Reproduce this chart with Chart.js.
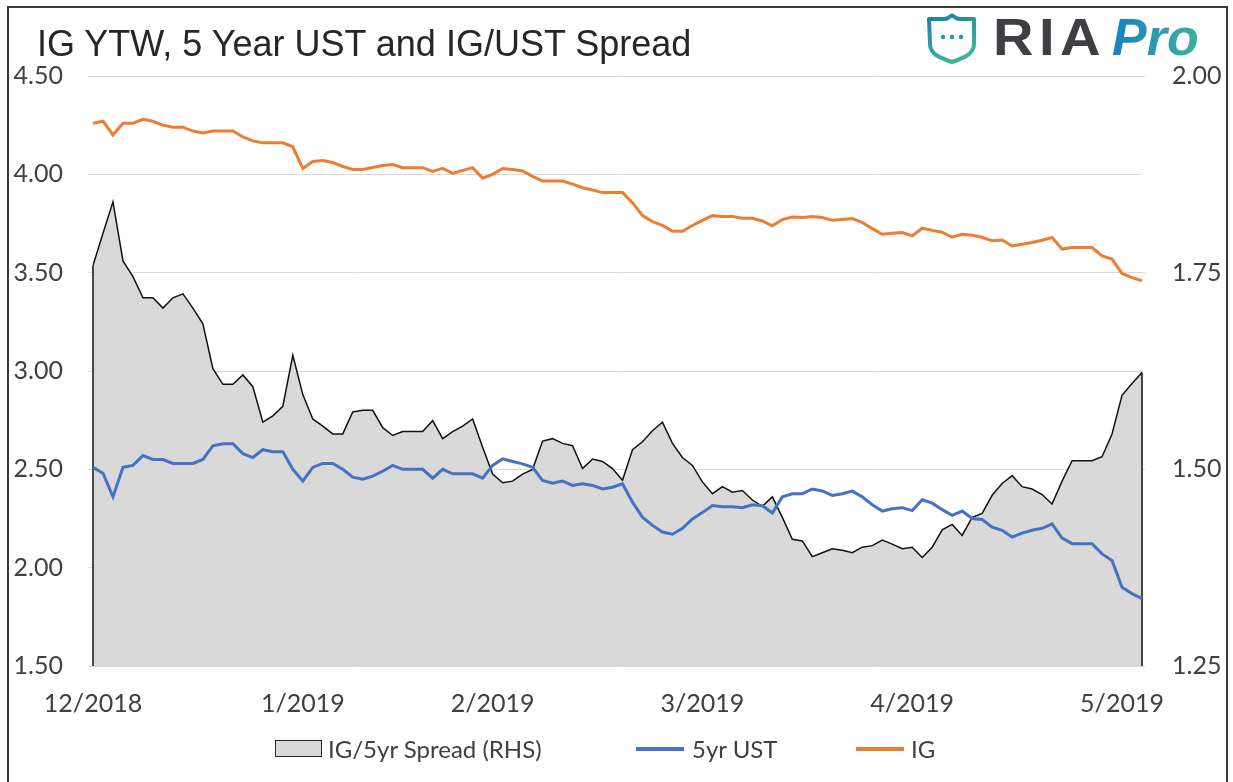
<!DOCTYPE html>
<html>
<head>
<meta charset="utf-8">
<script src="https://cdn.jsdelivr.net/npm/chart.js@4.4.0/dist/chart.umd.min.js"></script>
<style>
  html, body { margin: 0; padding: 0; background: #fff; }
  #wrap { position: relative; width: 1233px; height: 782px; overflow: hidden; font-family: Lato, sans-serif; }
  #chart { position: absolute; left: 0; top: 0; }
  #frame { position: absolute; left: 7px; top: 6px; width: 1217px; height: 790px; border: 2px solid #3a3a3a; pointer-events: none; }
  .title { position: absolute; left: 37px; top: 26px; font: 36px/36px "Liberation Sans", Arial, sans-serif; color: #262626; white-space: nowrap; }
  .shield { position: absolute; left: 926px; top: 13px; }
  .ria { position: absolute; left: 993px; top: 11px; font: bold 52px/52px "Liberation Sans", sans-serif; color: #3d3f42; letter-spacing: 5px;
         transform: scaleX(1.08); transform-origin: left top; }
  .pro { position: absolute; left: 1112px; top: 11px; font: italic bold 52px/52px "Liberation Sans", sans-serif;
         background: linear-gradient(90deg, #1a80c2, #3bb49c); -webkit-background-clip: text; background-clip: text; color: transparent; }
  .leg { position: absolute; font-size: 24px; line-height: 30px; color: #404040; top: 734px; white-space: nowrap; }
  .swatch { position: absolute; }
</style>
</head>
<body>
<div id="wrap">
  <canvas id="chart" width="1233" height="782"></canvas>
  <div id="frame"></div>
  <div class="title">IG YTW, 5 Year UST and IG/UST Spread</div>

  <svg class="shield" width="52" height="52" viewBox="0 0 52 52">
    <defs>
      <linearGradient id="sg" x1="0" y1="0" x2="0.4" y2="1">
        <stop offset="0" stop-color="#1b7fb0"/>
        <stop offset="1" stop-color="#3db39c"/>
      </linearGradient>
    </defs>
    <path d="M3,6 L20,6 L26,2.5 L32,6 L48,6 L48,31 C48,41 38,45 26,49 C14,45 4,41 4,31 Z"
          fill="none" stroke="url(#sg)" stroke-width="4" stroke-linejoin="round"/>
    <circle cx="17" cy="24" r="2.2" fill="#2590b4"/>
    <circle cx="26" cy="24" r="2.2" fill="#2590b4"/>
    <circle cx="35" cy="24" r="2.2" fill="#2590b4"/>
  </svg>
  <div class="ria">RIA</div>
  <div class="pro">Pro</div>

  <div class="swatch" style="left:275px;top:740px;width:45px;height:15px;background:#d9d9d9;border:1.5px solid #262626;"></div>
  <div class="leg" style="left:328px;">IG/5yr Spread (RHS)</div>
  <div class="swatch" style="left:636px;top:747px;width:48px;height:4px;background:#4472c4;"></div>
  <div class="leg" style="left:692px;">5yr UST</div>
  <div class="swatch" style="left:856px;top:747px;width:48px;height:4px;background:#ed7d31;"></div>
  <div class="leg" style="left:911px;">IG</div>
</div>

<script>
const monthLabels = ["12/2018", "1/2019", "2/2019", "3/2019", "4/2019", "5/2019"];
const monthStarts = [0, 21, 40, 61, 82, 103];

// IG yield to worst (left axis)
const igYield = [
  4.26, 4.27, 4.20, 4.26, 4.26, 4.28, 4.27, 4.25, 4.24, 4.24,
  4.22, 4.21, 4.22, 4.22, 4.22, 4.19, 4.17, 4.16, 4.16, 4.16,
  4.14, 4.03, 4.065, 4.07, 4.06, 4.04, 4.025, 4.025, 4.035, 4.045,
  4.05, 4.034, 4.034, 4.034, 4.015, 4.03, 4.005, 4.02, 4.034, 3.98,
  4.00, 4.03, 4.025, 4.017, 3.99, 3.966, 3.966, 3.966, 3.95, 3.932,
  3.92, 3.907, 3.907, 3.907, 3.856, 3.79, 3.76, 3.74, 3.71, 3.71,
  3.74, 3.766, 3.79, 3.785, 3.785, 3.777, 3.777, 3.763, 3.738, 3.77,
  3.783, 3.78, 3.785, 3.78, 3.766, 3.77, 3.775, 3.755, 3.724, 3.695,
  3.70, 3.704, 3.687, 3.726, 3.715, 3.706, 3.68, 3.695, 3.69, 3.68,
  3.662, 3.666, 3.636, 3.645, 3.653, 3.665, 3.679, 3.62, 3.628, 3.628,
  3.628, 3.585, 3.569, 3.496, 3.475, 3.459
];

// 5yr treasury (left axis)
const ust5y = [
  2.51, 2.48, 2.36, 2.51, 2.52, 2.57, 2.55, 2.55, 2.53, 2.53,
  2.53, 2.55, 2.62, 2.63, 2.63, 2.58, 2.56, 2.60, 2.59, 2.59,
  2.50, 2.44, 2.51, 2.53, 2.53, 2.50, 2.46, 2.45, 2.465, 2.49,
  2.52, 2.50, 2.50, 2.50, 2.455, 2.50, 2.477, 2.477, 2.477, 2.455,
  2.52, 2.553, 2.54, 2.528, 2.51, 2.443, 2.43, 2.44, 2.418, 2.426,
  2.418, 2.40, 2.409, 2.426, 2.333, 2.257, 2.215, 2.181, 2.17, 2.20,
  2.248, 2.28, 2.316, 2.31, 2.31, 2.305, 2.32, 2.315, 2.278, 2.36,
  2.376, 2.376, 2.40, 2.39, 2.367, 2.376, 2.389, 2.36, 2.32, 2.288,
  2.30, 2.305, 2.29, 2.345, 2.328, 2.295, 2.266, 2.288, 2.25, 2.245,
  2.206, 2.19, 2.156, 2.176, 2.19, 2.20, 2.223, 2.15, 2.122, 2.122,
  2.122, 2.07, 2.037, 1.90, 1.868, 1.843
];

// IG / 5yr spread (right axis)
const spread = [
  1.759, 1.80, 1.84, 1.765, 1.745, 1.718, 1.718, 1.705, 1.718, 1.723,
  1.705, 1.685, 1.628, 1.608, 1.608, 1.62, 1.605, 1.56, 1.568, 1.58,
  1.645, 1.595, 1.564, 1.555, 1.545, 1.545, 1.573, 1.575, 1.575, 1.553,
  1.543, 1.548, 1.548, 1.548, 1.562, 1.539, 1.548, 1.555, 1.564, 1.528,
  1.494, 1.483, 1.485, 1.494, 1.50, 1.536, 1.539, 1.533, 1.53, 1.501,
  1.513, 1.51, 1.501, 1.486, 1.525, 1.535, 1.549, 1.56, 1.533, 1.515,
  1.505, 1.484, 1.469, 1.478, 1.471, 1.473, 1.461, 1.453, 1.465, 1.439,
  1.411, 1.409, 1.389, 1.394, 1.399, 1.397, 1.394, 1.401, 1.403, 1.41,
  1.405, 1.399, 1.401, 1.388, 1.401, 1.423, 1.43, 1.416, 1.439, 1.444,
  1.467, 1.482, 1.492, 1.478, 1.475, 1.468, 1.456, 1.485, 1.511, 1.511,
  1.511, 1.516, 1.545, 1.594, 1.609, 1.623
];

const labels = igYield.map((v, i) => {
  const k = monthStarts.indexOf(i);
  return k >= 0 ? monthLabels[k] : "";
});

// excel draws the closing vertical edges of an area series
const areaEdges = {
  id: "areaEdges",
  afterDatasetDraw(chart, args) {
    if (args.index !== 0) return;
    const pts = args.meta.data;
    const bottom = chart.chartArea.bottom;
    const ctx = chart.ctx;
    ctx.save();
    ctx.strokeStyle = "#111";
    ctx.lineWidth = 1.5;
    ctx.beginPath();
    [pts[0], pts[pts.length - 1]].forEach(p => {
      ctx.moveTo(p.x, bottom);
      ctx.lineTo(p.x, p.y);
    });
    ctx.stroke();
    ctx.restore();
  }
};

Chart.defaults.font.family = "Lato";
Chart.defaults.color = "#404040";

const tickFont = { family: "Lato", size: 25 };

new Chart(document.getElementById("chart"), {
  type: "line",
  data: {
    labels: labels,
    datasets: [
      {
        label: "IG/5yr Spread (RHS)",
        data: spread,
        yAxisID: "y1",
        fill: "start",
        backgroundColor: "#d9d9d9",
        borderColor: "#111",
        borderWidth: 1.5,
        pointRadius: 0,
        tension: 0,
        order: 3
      },
      {
        label: "5yr UST",
        data: ust5y,
        yAxisID: "y",
        borderColor: "#4472c4",
        borderWidth: 3,
        pointRadius: 0,
        tension: 0,
        fill: false,
        order: 1
      },
      {
        label: "IG",
        data: igYield,
        yAxisID: "y",
        borderColor: "#ed7d31",
        borderWidth: 3,
        pointRadius: 0,
        tension: 0,
        fill: false,
        order: 2
      }
    ]
  },
  options: {
    responsive: false,
    animation: false,
    devicePixelRatio: 1,
    events: [],
    layout: { padding: { left: 11, right: 11, top: 76, bottom: 56 } },
    plugins: {
      legend: { display: false },
      tooltip: { enabled: false },
      title: { display: false }
    },
    scales: {
      x: {
        type: "category",
        grid: { display: false },
        border: { display: false },
        ticks: { autoSkip: false, maxRotation: 0, minRotation: 0, padding: 15, font: tickFont, color: "#404040" },
        afterFit(s) { s.height = 60; }
      },
      y: {
        position: "left",
        min: 1.5,
        max: 4.5,
        grid: { color: "#d9d9d9", lineWidth: 1, drawTicks: true, tickLength: 5 },
        border: { display: false },
        ticks: { stepSize: 0.5, padding: 25, font: tickFont, color: "#404040", callback: v => v.toFixed(2) },
        afterFit(s) { s.width = 82; }
      },
      y1: {
        position: "right",
        min: 1.25,
        max: 2.0,
        grid: { drawOnChartArea: false, color: "#d9d9d9", drawTicks: true, tickLength: 3 },
        border: { display: false },
        ticks: { stepSize: 0.25, padding: 27, font: tickFont, color: "#404040", callback: v => v.toFixed(2) },
        afterFit(s) { s.width = 80; }
      }
    }
  },
  plugins: [areaEdges]
});
</script>
</body>
</html>
